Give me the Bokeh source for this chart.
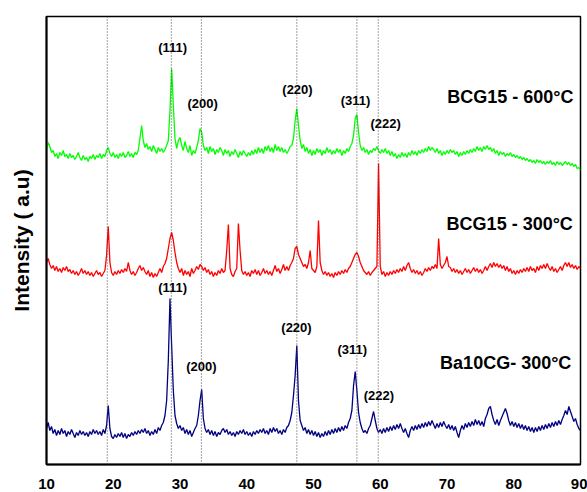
import numpy as np
from bokeh.plotting import figure
from bokeh.models import Range1d, FixedTicker, ColumnDataSource, Span
from bokeh.core.properties import value
from bokeh.embed import file_html
from bokeh.resources import INLINE

# 2-theta scan grid (degrees), 0.25 deg step
two_theta = np.round(np.arange(10.0, 90.0 + 1e-9, 0.25), 2)

# Intensities (a.u.) of each pattern, one row per 4 degrees
bcg15_600 = [
    22, 28, 24, 18, 20, 14, 17, 12, 18, 15, 20, 14, 16, 12, 17, 13,
    15, 11, 14, 18, 13, 10, 15, 11, 13, 9, 14, 12, 16, 11, 15, 13,
    17, 12, 16, 14, 20, 23, 17, 14, 18, 13, 16, 12, 17, 14, 18, 13,
    15, 19, 14, 17, 13, 18, 16, 20, 32, 45, 30, 23, 27, 21, 24, 19,
    25, 21, 17, 23, 19, 22, 18, 21, 25, 30, 60, 102, 65, 32, 22, 30,
    33, 25, 20, 29, 22, 18, 25, 15, 20, 17, 23, 30, 42, 38, 25, 20,
    23, 17, 24, 19, 22, 16, 21, 18, 23, 20, 15, 21, 17, 20, 14, 19,
    16, 21, 17, 13, 19, 15, 20, 17, 14, 18, 15, 20, 16, 21, 17, 23,
    18, 22, 17, 24, 20, 25, 19, 23, 18, 26, 20, 24, 19, 23, 18, 21,
    17, 20, 24, 25, 32, 50, 62, 45, 30, 22, 26, 19, 23, 17, 21, 15,
    20, 16, 22, 18, 21, 15, 20, 17, 23, 18, 21, 16, 20, 17, 22, 18,
    21, 15, 20, 17, 22, 19, 24, 27, 35, 52, 56, 38, 25, 20, 23, 18,
    21, 16, 20, 18, 22, 20, 24, 20, 17, 21, 18, 22, 17, 20, 15, 19,
    14, 17, 12, 16, 13, 18, 14, 17, 13, 18, 15, 20, 16, 19, 15, 20,
    17, 21, 18, 22, 19, 24, 20, 23, 21, 18, 22, 17, 20, 15, 19, 16,
    20, 17, 21, 18, 20, 16, 19, 14, 18, 15, 19, 16, 20, 17, 21, 18,
    22, 19, 24, 20, 23, 19, 24, 21, 25, 21, 23, 19, 22, 17, 20, 15,
    19, 16, 18, 14, 17, 15, 18, 14, 16, 13, 15, 12, 14, 11, 13, 10,
    12, 9, 11, 8, 10, 7, 11, 8, 10, 7, 9, 6, 9, 7, 10, 6,
    8, 5, 9, 6, 8, 5, 7, 9, 6, 8, 5, 7, 4, 6, 2, 3,
    0,
]

bcg15_300 = [
    18, 22, 16, 12, 15, 10, 14, 9, 12, 8, 13, 10, 14, 9, 11, 7,
    10, 6, 9, 5, 8, 12, 7, 10, 6, 9, 5, 8, 4, 7, 10, 6,
    8, 4, 7, 10, 25, 54, 18, 8, 5, 9, 6, 10, 7, 11, 8, 12,
    9, 18, 10, 6, 9, 5, 8, 12, 15, 10, 13, 9, 6, 10, 4, 8,
    3, 7, 4, 8, 12, 8, 14, 17, 22, 32, 42, 48, 40, 28, 18, 12,
    8, 12, 5, 10, 6, 9, 4, 12, 7, 10, 14, 11, 16, 14, 10, 13,
    8, 11, 6, 9, 4, 8, 5, 10, 7, 12, 8, 10, 30, 56, 12, 6,
    4, 9, 12, 57, 30, 10, 6, 9, 5, 8, 4, 10, 7, 11, 6, 10,
    5, 8, 12, 7, 10, 6, 9, 5, 10, 15, 9, 12, 7, 11, 16, 10,
    14, 10, 15, 18, 22, 32, 34, 26, 22, 18, 14, 16, 12, 18, 30, 12,
    10, 8, 14, 60, 18, 10, 6, 9, 5, 8, 4, 7, 3, 8, 5, 9,
    6, 10, 7, 11, 8, 12, 14, 18, 22, 26, 28, 24, 18, 14, 10, 8,
    6, 9, 5, 8, 10, 12, 14, 117, 14, 6, 9, 4, 8, 5, 9, 6,
    10, 7, 11, 8, 12, 9, 14, 10, 15, 18, 12, 8, 11, 7, 10, 6,
    9, 5, 8, 12, 9, 13, 10, 14, 12, 16, 12, 42, 16, 12, 15, 18,
    24, 14, 13, 9, 12, 8, 11, 7, 10, 6, 9, 12, 8, 11, 7, 10,
    13, 9, 12, 8, 11, 7, 10, 14, 10, 14, 17, 13, 18, 14, 17, 13,
    16, 12, 15, 10, 14, 9, 12, 7, 10, 6, 10, 7, 11, 8, 12, 9,
    13, 9, 14, 10, 12, 8, 14, 10, 15, 12, 16, 12, 17, 13, 10, 14,
    9, 12, 8, 11, 14, 10, 15, 18, 14, 18, 13, 16, 12, 15, 11, 14,
    12,
]

ba10cg_300 = [
    12, 18, 10, 14, 7, 11, 5, 10, 6, 12, 7, 10, 4, 9, 6, 11,
    7, 3, 8, 5, 10, 6, 9, 5, 8, 4, 9, 6, 11, 7, 10, 6,
    9, 5, 11, 7, 15, 35, 12, 4, 2, 6, 3, 7, 4, 8, 3, 7,
    2, 6, 4, 8, 5, 9, 6, 10, 7, 11, 8, 12, 7, 10, 5, 9,
    6, 11, 7, 13, 10, 15, 18, 25, 40, 80, 142, 95, 50, 25, 17, 12,
    15, 10, 13, 7, 11, 6, 10, 4, 8, 12, 15, 25, 40, 51, 22, 12,
    8, 11, 6, 10, 5, 9, 4, 8, 6, 10, 12, 8, 11, 6, 9, 5,
    8, 4, 9, 6, 10, 7, 11, 6, 9, 5, 8, 4, 9, 6, 10, 7,
    11, 8, 12, 7, 10, 6, 12, 8, 13, 9, 12, 7, 10, 6, 11, 8,
    13, 15, 20, 28, 45, 65, 95, 40, 20, 15, 10, 13, 7, 11, 6, 10,
    5, 9, 4, 8, 3, 7, 4, 9, 5, 10, 6, 11, 7, 12, 8, 13,
    9, 14, 10, 15, 12, 18, 22, 30, 55, 69, 50, 28, 18, 12, 8, 10,
    7, 12, 15, 22, 29, 20, 12, 8, 11, 7, 12, 8, 13, 9, 14, 10,
    15, 11, 16, 12, 17, 12, 8, 12, 7, 3, 10, 14, 10, 15, 11, 16,
    12, 17, 13, 18, 14, 19, 15, 20, 16, 12, 17, 13, 18, 14, 19, 15,
    12, 16, 11, 15, 10, 14, 8, 3, 10, 15, 11, 17, 13, 18, 14, 19,
    15, 21, 16, 20, 15, 19, 14, 22, 26, 32, 34, 26, 20, 16, 21, 15,
    20, 24, 28, 32, 27, 20, 15, 19, 14, 18, 13, 17, 12, 16, 11, 15,
    10, 14, 9, 13, 8, 13, 9, 14, 10, 15, 11, 16, 12, 17, 13, 18,
    14, 19, 15, 20, 16, 21, 25, 30, 26, 34, 29, 24, 19, 22, 16, 12,
    10,
]

# vertical stacking offsets (a.u.)
offset_600 = 294
offset_300 = 184
offset_ba = 24

# reference reflection positions (2-theta)
reflections = [19.1, 28.7, 33.2, 47.5, 56.5, 59.7]

# Miller-index labels for the upper and lower patterns
hkl_text = ["(111)", "(200)", "(220)", "(311)", "(222)"]
hkl_600_x = [28.9, 33.4, 47.6, 56.3, 60.8]
hkl_600_y = [417, 361, 375, 364, 341]
hkl_ba_x = [28.9, 33.2, 47.45, 55.8, 59.8]
hkl_ba_y = [177, 98, 137, 115, 69]

sample_names = ["BCG15 - 600\u00b0C", "BCG15 - 300\u00b0C", "Ba10CG- 300\u00b0C"]
sample_x = [79.5, 79.4, 78.8]
sample_y = [368, 241, 102]

FONT = "Liberation Sans"

p = figure(width=587, height=492, output_backend="svg", toolbar_location=None,
           x_range=Range1d(10, 90), y_range=Range1d(0, 448),
           min_border_left=46, min_border_right=7, min_border_top=16,
           min_border_bottom=28)

p.xgrid.visible = False
p.ygrid.visible = False
p.outline_line_color = "black"
p.outline_line_width = 1.5

# dotted reflection markers
for pos in reflections:
    p.add_layout(Span(location=pos, dimension="height", line_color="#444444",
                      line_width=1, line_dash="1 2"))

p.line(two_theta, np.array(bcg15_600) + offset_600, line_color="#00ff00", line_width=1.3)
p.line(two_theta, np.array(bcg15_300) + offset_300, line_color="#ff0000", line_width=1.3)
p.line(two_theta, np.array(ba10cg_300) + offset_ba, line_color="#000080", line_width=1.3)

hkl_src_600 = ColumnDataSource(dict(x=hkl_600_x, y=hkl_600_y, t=hkl_text))
hkl_src_ba = ColumnDataSource(dict(x=hkl_ba_x, y=hkl_ba_y, t=hkl_text))
for src in (hkl_src_600, hkl_src_ba):
    p.text(x="x", y="y", text="t", source=src, text_align="center",
           text_baseline="middle", text_font=value(FONT), text_font_style="bold",
           text_font_size="13px", text_color="black")

p.text(x=sample_x, y=sample_y, text=sample_names, text_align="center",
       text_baseline="middle", text_font=value(FONT), text_font_style="bold",
       text_font_size="18px", text_color="black")

# axes
p.xaxis.ticker = FixedTicker(ticks=[10, 20, 30, 40, 50, 60, 70, 80, 90])
p.xaxis.major_tick_line_color = None
p.xaxis.minor_tick_line_color = None
p.xaxis.major_label_text_font = FONT
p.xaxis.major_label_text_font_style = "bold"
p.xaxis.major_label_text_font_size = "15px"
p.xaxis.major_label_text_color = "black"
p.xaxis.major_label_standoff = 8
p.xaxis.axis_line_width = 2

p.yaxis.ticker = FixedTicker(ticks=[])
p.yaxis.major_tick_line_color = None
p.yaxis.minor_tick_line_color = None
p.yaxis.axis_line_width = 2
p.yaxis.axis_label = "Intensity ( a.u)"
p.yaxis.axis_label_text_font = FONT
p.yaxis.axis_label_text_font_style = "bold"
p.yaxis.axis_label_text_font_size = "21px"
p.yaxis.axis_label_text_color = "black"
p.yaxis.axis_label_standoff = 14

open("out.html", "w").write(file_html(p, INLINE))
